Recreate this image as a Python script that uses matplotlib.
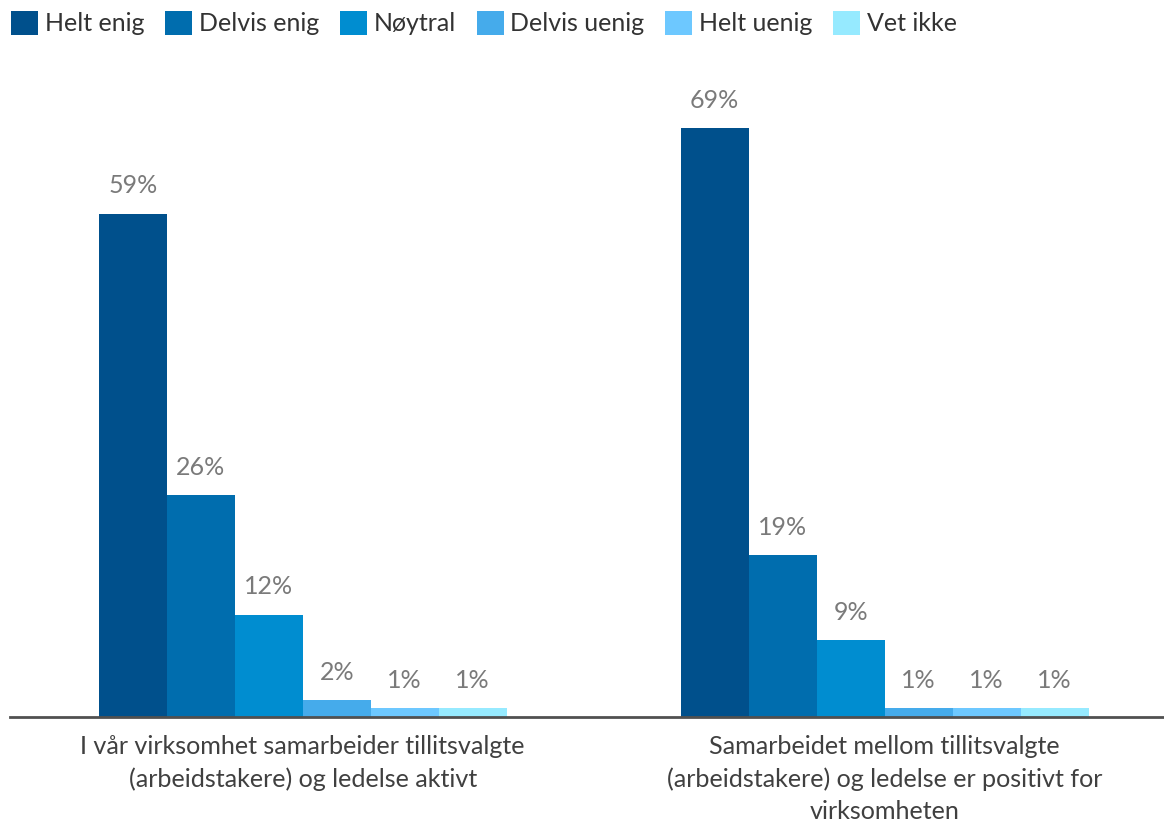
import matplotlib
matplotlib.use("Agg")
import matplotlib.pyplot as plt
from matplotlib.patches import Patch
import numpy as np

plt.rcParams['font.family'] = ['Lato', 'DejaVu Sans']

categories = [
    "I vår virksomhet samarbeider tillitsvalgte\n(arbeidstakere) og ledelse aktivt",
    "Samarbeidet mellom tillitsvalgte\n(arbeidstakere) og ledelse er positivt for\nvirksomheten",
]
series = ["Helt enig", "Delvis enig", "Nøytral", "Delvis uenig", "Helt uenig", "Vet ikke"]
values = {
    "Helt enig":    [59, 69],
    "Delvis enig":  [26, 19],
    "Nøytral":      [12, 9],
    "Delvis uenig": [2, 1],
    "Helt uenig":   [1, 1],
    "Vet ikke":     [1, 1],
}
colors = ["#00508C", "#006DAE", "#008DD0", "#45ABEB", "#6DC8FF", "#96EAFF"]

fig = plt.figure(figsize=(11.64, 8.26), dpi=100)
ax = fig.add_axes([10 / 1164, 109 / 826, 1154 / 1164, 640 / 826])

x = np.arange(len(categories))
bw = 0.1168
n = len(series)
for i, (name, col) in enumerate(zip(series, colors)):
    offs = (i - (n - 1) / 2) * bw
    bars = ax.bar(x + offs, values[name], width=bw, color=col, label=name)
    for b, v in zip(bars, values[name]):
        ax.text(b.get_x() + b.get_width() / 2, v + 1.9, f"{v}%",
                ha="center", va="bottom", fontsize=18, color="#7a7a7a")

ax.set_xlim(-0.503, 1.48)
ax.set_ylim(0, 75)
ax.set_yticks([])
for s in ["left", "right", "top"]:
    ax.spines[s].set_visible(False)
ax.spines["bottom"].set_color("#505050")
ax.spines["bottom"].set_linewidth(2)
ax.set_xticks(x)
ax.set_xticklabels(categories, fontsize=18.1, color="#404040", linespacing=1.48)
ax.tick_params(axis="x", length=0, pad=13)

handles = [Patch(facecolor=c, label=s) for s, c in zip(series, colors)]
fig.legend(handles=handles, loc="upper left",
           bbox_to_anchor=(11 / 1164, 1 - 11 / 826),
           ncol=6, frameon=False, fontsize=18, handlelength=1.08, handleheight=1.08,
           handletextpad=0.28, columnspacing=0.82, borderpad=0, borderaxespad=0,
           labelcolor="#333333")

fig.savefig("out.png", dpi=100)
